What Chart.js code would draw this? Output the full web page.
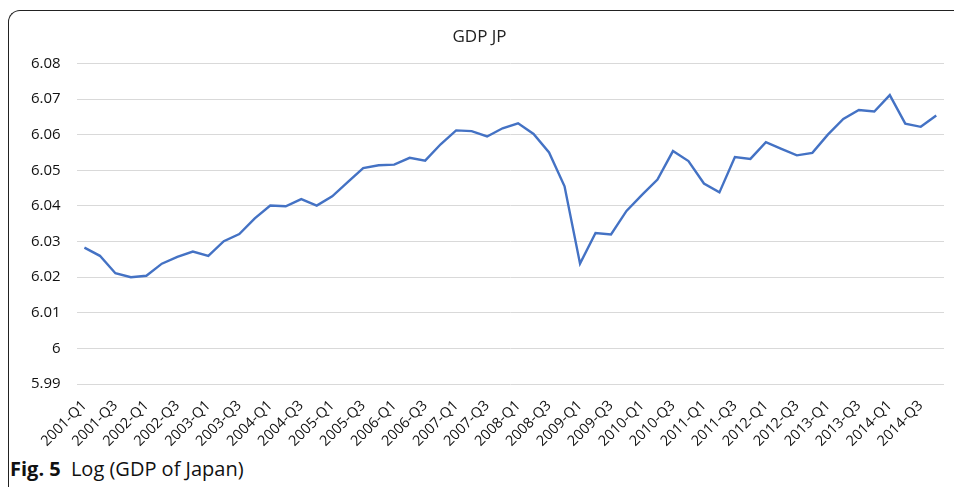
<!DOCTYPE html>
<html lang="en">
<head>
    <meta charset="UTF-8">
    <title>GDP JP</title>
    <script src="https://cdn.jsdelivr.net/npm/chart.js"></script>
    <style>
        html, body { margin: 0; padding: 0; background: #fff; overflow: hidden; }
        body { width: 954px; height: 487px; position: relative; font-family: "Open Sans", sans-serif; }
        .frame {
            position: absolute; left: 8px; top: 10px; width: 980px; height: 500px;
            border-left: 1.5px solid #222; border-top: 1.5px solid #222;
            border-top-left-radius: 12px;
        }
        /* a bit wider than the page so the title lands where the original has it */
        .chart-box { position: absolute; left: 0; top: 0; width: 974px; height: 455px; }
        .caption { position: absolute; left: 10px; top: 455px; font-size: 20px; color: #111; }
        .caption b { margin-right: 5px; }
    </style>
</head>
<body>
<div class="frame"></div>
<div class="chart-box"><canvas id="gdpChart"></canvas></div>
<div class="caption"><b>Fig. 5</b> Log (GDP of Japan)</div>

<script>
    const years = ['2001','2002','2003','2004','2005','2006','2007','2008','2009','2010','2011','2012','2013','2014'];
    const quarters = ['Q1','Q2','Q3','Q4'];
    const periods = years.flatMap(y => quarters.map(q => y + '-' + q));

    // log10 of Japan's GDP
    const logGdp = [
        6.0283, 6.0260, 6.0211, 6.0200, 6.0204, 6.0238, 6.0257, 6.0272,
        6.0260, 6.0301, 6.0321, 6.0365, 6.0401, 6.0399, 6.0419, 6.0401,
        6.0427, 6.0467, 6.0506, 6.0514, 6.0516, 6.0535, 6.0527, 6.0573,
        6.0612, 6.0610, 6.0595, 6.0618, 6.0632, 6.0602, 6.0550, 6.0455,
        6.0238, 6.0324, 6.0320, 6.0386, 6.0431, 6.0474, 6.0554, 6.0526,
        6.0463, 6.0438, 6.0537, 6.0532, 6.0579, 6.0560, 6.0542, 6.0549,
        6.0600, 6.0644, 6.0669, 6.0665, 6.0711, 6.0631, 6.0622, 6.0654
    ];

    const yMin = 5.99, yMax = 6.08, yStep = 0.01;

    new Chart(document.getElementById('gdpChart'), {
        type: 'line',
        data: {
            labels: periods,
            datasets: [{
                label: 'GDP JP',
                data: logGdp,
                borderColor: '#4472c4',
                borderWidth: 2.4,
                pointRadius: 0,
                tension: 0,
                fill: false
            }]
        },
        options: {
            responsive: true,
            maintainAspectRatio: false,
            animation: false,
            layout: { padding: { left: 15, right: 30, top: 0, bottom: 0 } },
            scales: {
                x: {
                    offset: true,
                    grid: { display: false },
                    border: { display: false },
                    ticks: {
                        autoSkip: false,
                        maxRotation: 45,
                        minRotation: 45,
                        color: '#111',
                        font: { family: 'Open Sans', size: 14.5 },
                        padding: 5,
                        callback: function(val, i) { return i % 2 === 0 ? this.getLabelForValue(val) : ''; }
                    }
                },
                y: {
                    min: yMin,
                    max: yMax,
                    border: { display: false },
                    grid: { color: '#d9d9d9', lineWidth: 1, drawTicks: false },
                    ticks: {
                        stepSize: yStep,
                        color: '#111',
                        padding: 16,
                        font: { family: 'Open Sans', size: 15 },
                        callback: v => String(Number(v.toFixed(2)))
                    }
                }
            },
            plugins: {
                legend: { display: false },
                tooltip: { enabled: false },
                title: {
                    display: true,
                    text: 'GDP JP',
                    color: '#222',
                    font: { family: 'Open Sans', size: 17, weight: 'normal' },
                    padding: { top: 27, bottom: 16 }
                }
            }
        }
    });
</script>
</body>
</html>
